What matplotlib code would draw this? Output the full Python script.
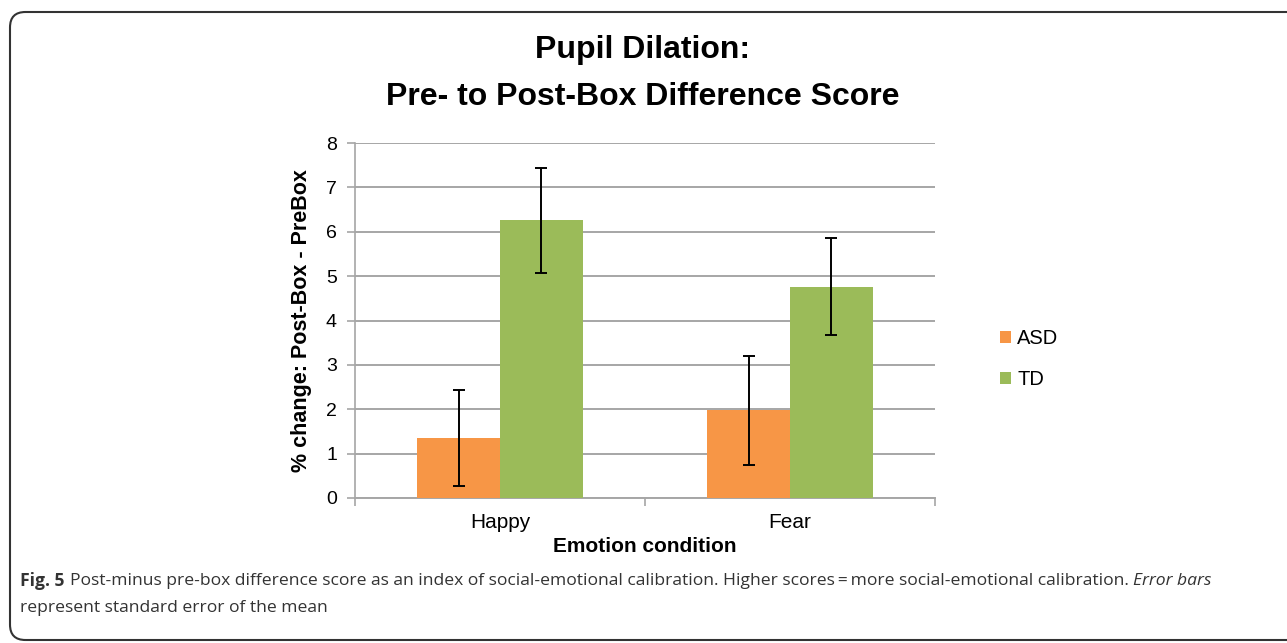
import matplotlib
matplotlib.use("Agg")
import matplotlib.pyplot as plt
from matplotlib.patches import FancyBboxPatch, Patch
import numpy as np

categories = ["Happy", "Fear"]
series_names = ["ASD", "TD"]
asd_values = [1.35, 1.98]
td_values = [6.26, 4.76]
asd_err = [1.09, 1.23]
td_err = [1.18, 1.09]
yticks = [0, 1, 2, 3, 4, 5, 6, 7, 8]

title_lines = ["Pupil Dilation:", "Pre- to Post-Box Difference Score"]
ylabel = "% change: Post-Box - PreBox"
xlabel = "Emotion condition"

orange = "#F79646"
green = "#9BBB59"
grid_c = "#A6A6A6"

fig = plt.figure(figsize=(12.87, 6.43), dpi=100)
ax = fig.add_axes([355/1287, 1-498/643, 580/1287, 355/643])

x = np.arange(len(categories))
w = 0.286
ax.bar(x - w/2, asd_values, w, color=orange, zorder=3, label=series_names[0])
ax.bar(x + w/2, td_values, w, color=green, zorder=3, label=series_names[1])
ax.errorbar(x - w/2, asd_values, yerr=asd_err, fmt="none", ecolor="black",
            elinewidth=1.4, capsize=4, capthick=1.4, zorder=4)
ax.errorbar(x + w/2, td_values, yerr=td_err, fmt="none", ecolor="black",
            elinewidth=1.4, capsize=4, capthick=1.4, zorder=4)

ax.set_xlim(-0.5, 1.5)
ax.set_ylim(0, 8)
ax.set_yticks(yticks)
ax.set_xticks(x)
ax.set_xticklabels(categories)
ax.set_xticks([-0.5, 0.5, 1.5], minor=True)
ax.tick_params(axis="x", which="major", length=0, pad=11, labelsize=15)
ax.tick_params(axis="x", which="minor", length=6, width=1.2, color=grid_c, direction="out")
ax.tick_params(axis="y", length=6, width=1.2, color=grid_c, direction="out", pad=7, labelsize=14)
for lab in ax.get_xticklabels() + ax.get_yticklabels():
    lab.set_fontfamily("Liberation Sans")

ax.yaxis.grid(True, color=grid_c, linewidth=1.4, zorder=0)
ax.set_axisbelow(True)
for s in ["top", "right"]:
    ax.spines[s].set_visible(False)
ax.spines["left"].set_color(grid_c)
ax.spines["left"].set_linewidth(1.2)
ax.spines["bottom"].set_color(grid_c)
ax.spines["bottom"].set_linewidth(1.4)

ax.set_ylabel(ylabel, fontsize=15.5, fontweight="bold", family="Liberation Sans", labelpad=10)
fig.text(645/1287, 1-546/643, xlabel, ha="center", va="center", fontsize=15,
         fontweight="bold", family="Liberation Sans")

fig.text(643/1287, 1-58/643, title_lines[0], ha="center", va="baseline", fontsize=23,
         fontweight="bold", family="Liberation Sans")
fig.text(643/1287, 1-105/643, title_lines[1], ha="center", va="baseline", fontsize=23,
         fontweight="bold", family="Liberation Sans")

handles = [Patch(facecolor=orange), Patch(facecolor=green)]
fig.legend(handles, series_names, loc="center left", bbox_to_anchor=(982/1287, 1-359/643),
           frameon=False, prop={"family": "Liberation Sans", "size": 14.5},
           handlelength=0.55, handleheight=0.55, handletextpad=0.3, labelspacing=1.1)

border = FancyBboxPatch((10/1287, 3/643), 1.2, 1-12/643-3/643,
                        boxstyle="round,pad=0,rounding_size=0.012",
                        transform=fig.transFigure, fill=False, edgecolor="#333333",
                        linewidth=1.5, mutation_aspect=2.0, clip_on=False)
fig.patches.append(border)

cap_fs = 12.6
cap_y1 = 1-581/643
cap_y2 = 1-608/643
t1 = fig.text(20/1287, cap_y1, "Fig. 5", fontsize=cap_fs, fontweight="bold", family="Open Sans",
              color="#333333", va="center")
fig.canvas.draw()
bb = t1.get_window_extent()
t2 = fig.text(bb.x1/1287 + 5/1287, cap_y1,
         "Post-minus pre-box difference score as an index of social-emotional calibration. Higher scores\u2009=\u2009more social-emotional calibration. ",
         fontsize=cap_fs, family="Open Sans", color="#333333", va="center")
fig.canvas.draw()
bb2 = t2.get_window_extent()
fig.text(bb2.x1/1287, cap_y1, "Error bars", fontsize=cap_fs, family="Open Sans",
         style="italic", color="#333333", va="center")
fig.text(20/1287, cap_y2, "represent standard error of the mean", fontsize=cap_fs,
         family="Open Sans", color="#333333", va="center")

fig.savefig("out.png", dpi=100)
